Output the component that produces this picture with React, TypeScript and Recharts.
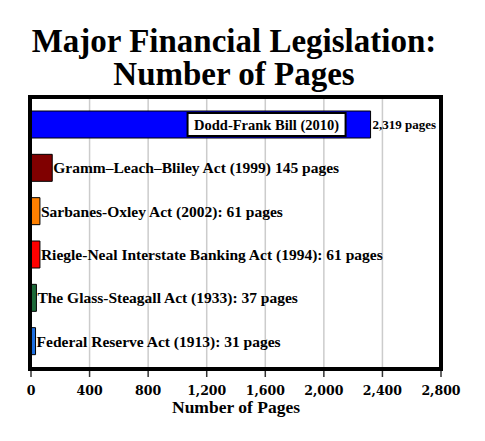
import React from "react"
import { BarChart, Bar, XAxis, YAxis, CartesianGrid, Cell, LabelList } from "recharts"

const acts = [
  "Dodd-Frank Bill (2010)",
  "Gramm–Leach–Bliley Act (1999)",
  "Sarbanes-Oxley Act (2002)",
  "Riegle-Neal Interstate Banking Act (1994)",
  "The Glass-Steagall Act (1933)",
  "Federal Reserve Act (1913)",
]
const pages = [2319, 145, 61, 61, 37, 31]
const barLabels = [
  "2,319 pages",
  "Gramm–Leach–Bliley Act (1999) 145 pages",
  "Sarbanes-Oxley Act (2002): 61 pages",
  "Riegle-Neal Interstate Banking Act (1994): 61 pages",
  "The Glass-Steagall Act (1933): 37 pages",
  "Federal Reserve Act (1913): 31 pages",
]
const colors = ["#0000ff", "#800000", "#ff8000", "#ff0000", "#1e6b3a", "#1f6fe0"]
const xTicks = [0, 400, 800, 1200, 1600, 2000, 2400, 2800]

const data = acts.map((name, i) => ({ name, pages: pages[i], label: barLabels[i] }))

const serif = "'Liberation Serif', 'Times New Roman', serif"
const tickFont = "'DejaVu Serif', serif"

const renderLabel = (props: any) => {
  const { x, y, width, height, value, index } = props
  const cy = y + height / 2
  if (index === 0) {
    const boxW = 158
    const boxRight = x + width - 25
    return (
      <g>
        <rect x={boxRight - boxW} y={cy - 11.5} width={boxW} height={23} fill="#fff" stroke="#000" strokeWidth={2} />
        <text x={boxRight - boxW / 2} y={cy} textAnchor="middle" dominantBaseline="central"
          fontFamily={serif} fontWeight="bold" fontSize={14.5} fill="#000">
          {acts[0]}
        </text>
        <text x={x + width + 2} y={cy} dominantBaseline="central"
          fontFamily={serif} fontWeight="bold" fontSize={13} fill="#000">
          {value}
        </text>
      </g>
    )
  }
  return (
    <text x={x + width + 1} y={cy} dominantBaseline="central"
      fontFamily={serif} fontWeight="bold" fontSize={15.5} fill="#000">
      {value}
    </text>
  )
}

const titleLine: React.CSSProperties = {
  position: "absolute", left: 0, width: 468,
  fontFamily: serif, fontWeight: "bold", fontSize: 33, lineHeight: "30px", height: 30,
  color: "#000", textAlign: "center", whiteSpace: "nowrap",
}

export default function App() {
  return (
    <div style={{ position: "absolute", left: 0, top: 0, width: 485, height: 441, background: "#fff" }}>
      <div style={{ ...titleLine, top: 26 }}>Major Financial Legislation:</div>
      <div style={{ ...titleLine, top: 59 }}>Number of Pages</div>
      <BarChart
        width={485}
        height={441}
        data={data}
        layout="vertical"
        margin={{ top: 97, right: 44, bottom: 22, left: 31 }}
      >
        <CartesianGrid horizontal={false} stroke="#cccccc" strokeWidth={1.5} />
        <XAxis
          type="number"
          domain={[0, 2800]}
          ticks={xTicks}
          interval={0}
          tickFormatter={(v: number) => v.toLocaleString("en-US")}
          axisLine={false}
          tickLine={{ stroke: "#333", strokeWidth: 1.5 }}
          tickSize={8}
          tickMargin={9}
          height={50}
          tick={{ fontFamily: tickFont, fontWeight: "bold", fontSize: 12.5, fill: "#000" }}
          label={{ value: "Number of Pages", position: "insideBottom", offset: 6,
            style: { fontFamily: serif, fontWeight: "bold", fontSize: 17.5, fill: "#000" } }}
        />
        <YAxis type="category" dataKey="name" width={0} tick={false} tickLine={false} axisLine={false}
          padding={{ top: 6, bottom: 6 }} />
        <Bar dataKey="pages" isAnimationActive={false} stroke="#000" strokeWidth={1} barSize={27}>
          {data.map((d, i) => (
            <Cell key={d.name} fill={colors[i]} />
          ))}
          <LabelList dataKey="label" content={renderLabel} />
        </Bar>
      </BarChart>
      <div style={{
        position: "absolute", left: 28, top: 95, width: 415, height: 276,
        boxSizing: "border-box", border: "4px solid #000", pointerEvents: "none",
      }} />
    </div>
  )
}
